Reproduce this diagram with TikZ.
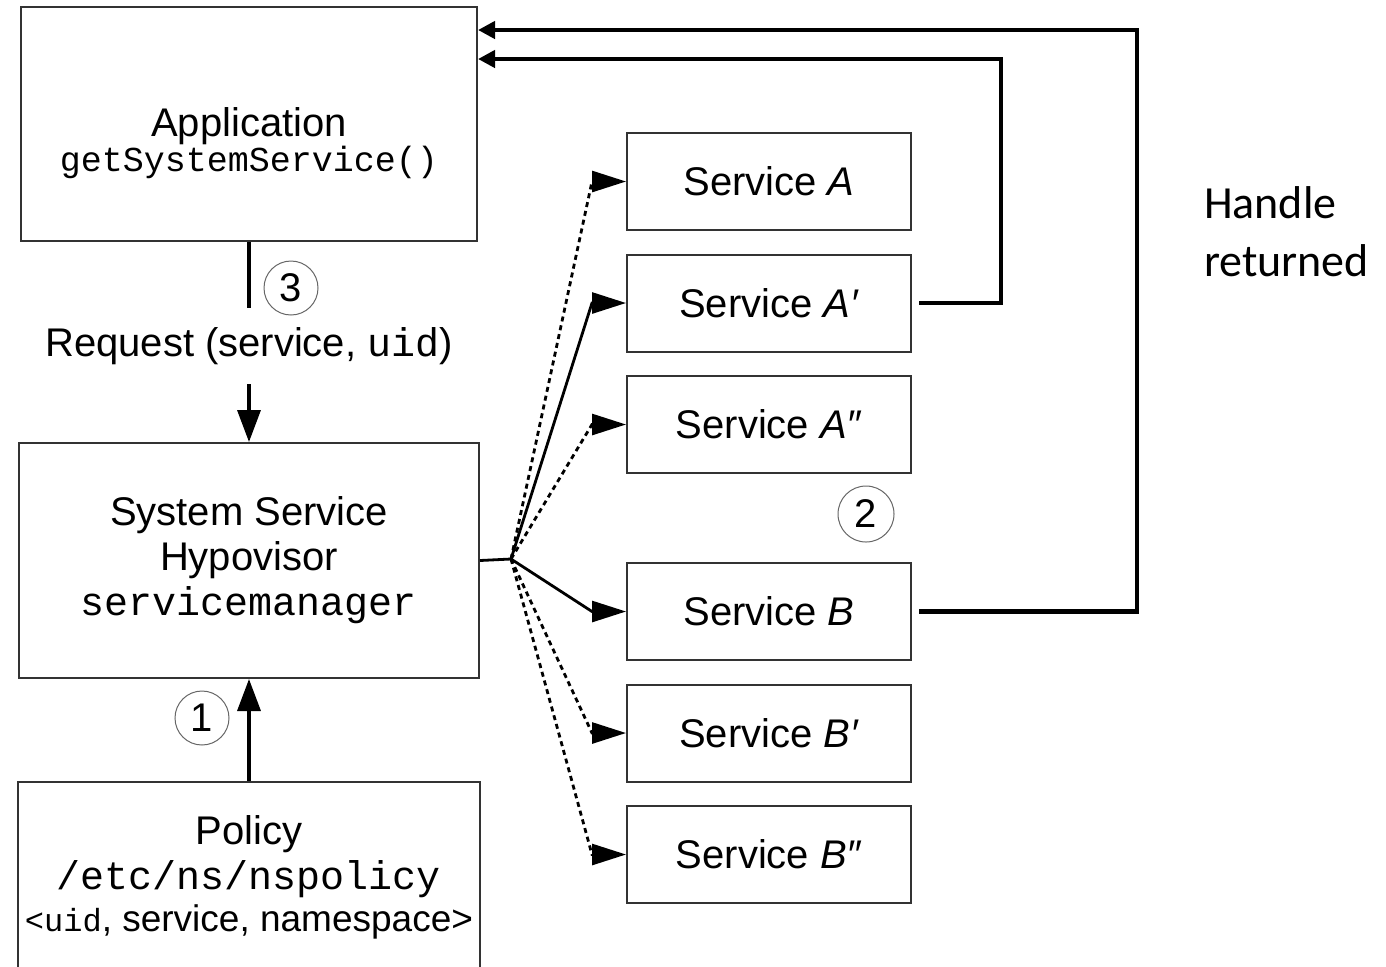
\documentclass[tikz,border=0pt]{standalone}
\usepackage{fontspec}
\setmainfont{Liberation Sans}
\setmonofont{Liberation Mono}
\newfontfamily\hdlfont{Carlito}
\usetikzlibrary{arrows.meta,positioning}

\begin{document}
\begin{tikzpicture}[x=0.5pt,y=-0.5pt,node distance=60.75pt,on grid,
    font=\fontsize{20}{24}\selectfont]
    \tikzset{box/.style={draw=black!80,line width=1pt,rectangle,align=center},
      svc/.style={box,minimum width=142pt,minimum height=48.5pt},
      num/.style={draw=black!60,line width=0.5pt,circle,minimum size=27pt,inner sep=0pt},
      req/.style={line width=1.75pt,-{Triangle[length=16pt,width=11.5pt]}},
      call/.style={line width=1.4pt,-{Triangle[length=17pt,width=10.5pt]}},
      maybe/.style={call,dash pattern=on 2.5pt off 2pt},
      ret/.style={line width=2.4pt,-{Triangle[length=8.5pt,width=8.5pt]}}}
    \useasboundingbox (0,0) rectangle (1386,966);
    \clip (0,0) rectangle (1386,966);

    % left column
    \node[box,minimum width=228pt,minimum height=117pt] (app) at (249,124) {};
    \node[align=center] (appLbl) at (249,143)
      {Application\\[-6.5pt]{\ttfamily\fontsize{17.5}{21}\selectfont getSystemService()}};
    \node[minimum height=38pt] (reqLbl) at (249,346) {Request (service, {\ttfamily uid})};
    \node[box,minimum width=230pt,minimum height=117.5pt] (hyp) at (249,560.5)
      {System Service\\[-1.5pt]Hypovisor\\[-1.5pt]{\ttfamily servicemanager}};
    \node[box,minimum width=231pt,minimum height=95pt,inner xsep=2pt] (pol) at (249,877)
      {Policy\\[-1.5pt]{\ttfamily /etc/ns/nspolicy}\\[-3pt]%
       {\fontsize{18.5}{22}\selectfont{\ttfamily\fontsize{16}{22}\selectfont <uid}, service, namespace>}};

    % services
    \node[svc] (sA) at (769,181.5) {Service \textit{A}};
    \node[svc,below=of sA] (sA1) {Service \textit{A′}};
    \node[svc,below=of sA1] (sA2) {Service \textit{A″}};
    \node[svc,below=93.5pt of sA2] (sB) {Service \textit{B}};
    \node[svc,below=of sB] (sB1) {Service \textit{B′}};
    \node[svc,below=of sB1] (sB2) {Service \textit{B″}};

    % step numbers
    \node[num] (n1) at (202,718) {1};
    \node[num,minimum size=28pt] (n2) at (866,514) {2};
    \node[num] (n3) at (291,288) {3};

    \node[font=\hdlfont\fontsize{23}{29}\selectfont,align=left,anchor=west] (hdl)
      at (1197,232) {Handle\\returned};

    % request path
    \draw[line width=1.75pt] (app.south) -- (reqLbl.north);
    \draw[req] (reqLbl.south) -- (hyp.north);
    \draw[req] (pol.north) -- (hyp.south);

    % lookup fan, heads kept level with the boxes
    \coordinate (fan) at (511,559);
    \draw[line width=1.4pt] (hyp.east) -- (fan);
    \draw[maybe] (fan) -- ([xshift=-17pt]sA.west) -- (sA.west);
    \draw[call] (fan) -- ([xshift=-17pt]sA1.west) -- (sA1.west);
    \draw[maybe] (fan) -- ([xshift=-17pt]sA2.west) -- (sA2.west);
    \draw[call] (fan) -- ([xshift=-17pt]sB.west) -- (sB.west);
    \draw[maybe] (fan) -- ([xshift=-17pt]sB1.west) -- (sB1.west);
    \draw[maybe] (fan) -- ([xshift=-17pt]sB2.west) -- (sB2.west);

    % handles back to the app
    \coordinate (turnA) at (1001,59);
    \coordinate (turnB) at (1137,30);
    \draw[ret,shorten <=3.5pt] (sA1.east) -| (turnA) -- (app.east |- turnA);
    \draw[ret,shorten <=3.5pt] (sB.east) -| (turnB) -- (app.east |- turnB);
\end{tikzpicture}
\end{document}
